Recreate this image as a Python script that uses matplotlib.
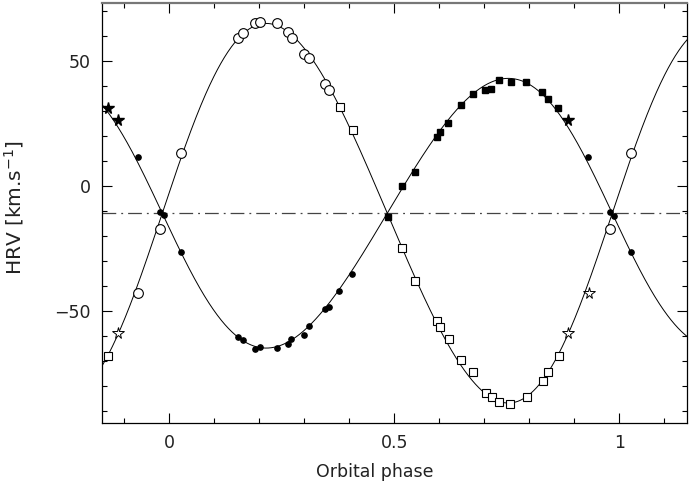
import numpy as np
import matplotlib
matplotlib.use("Agg")
import matplotlib.pyplot as plt
from matplotlib.ticker import MultipleLocator

# ---------------- data ----------------
open_circ_phase = [-0.069, -0.022, 0.026, 0.153, 0.164, 0.190, 0.202, 0.238, 0.264,
                   0.272, 0.299, 0.309, 0.346, 0.355, 0.980, 1.026]
open_circ_rv = [-43.0, -17.3, 13.0, 59.0, 61.2, 65.0, 65.5, 65.2, 61.4,
                59.2, 52.7, 51.0, 40.7, 38.4, -17.3, 13.0]

open_sq_phase = [-0.136, 0.378, 0.407, 0.516, 0.545, 0.594, 0.601, 0.621, 0.648,
                 0.675, 0.703, 0.717, 0.732, 0.757, 0.795, 0.830, 0.841, 0.866]
open_sq_rv = [-68.0, 31.6, 22.2, -25.0, -38.0, -54.0, -56.4, -61.2, -69.7,
              -74.6, -82.9, -84.4, -86.5, -87.3, -84.4, -78.1, -74.5, -68.0]

open_star_phase = [-0.115, 0.885, 0.932]
open_star_rv = [-59.0, -59.0, -43.0]

fill_circ_phase = [-0.070, -0.022, -0.012, 0.025, 0.153, 0.164, 0.190, 0.202, 0.238,
                   0.264, 0.271, 0.298, 0.309, 0.346, 0.355, 0.377, 0.406,
                   0.931, 0.979, 0.988, 1.026]
fill_circ_rv = [11.6, -10.4, -11.7, -26.6, -60.4, -61.7, -65.3, -64.4, -64.9,
                -63.2, -61.3, -59.7, -56.1, -49.3, -48.5, -42.1, -35.3,
                11.6, -10.5, -12.0, -26.6]

fill_sq_phase = [0.485, 0.517, 0.545, 0.594, 0.602, 0.620, 0.648, 0.675, 0.701,
                 0.715, 0.732, 0.758, 0.793, 0.829, 0.842, 0.864]
fill_sq_rv = [-12.4, 0.0, 5.6, 19.6, 21.4, 25.2, 32.2, 36.7, 38.3,
              38.7, 42.4, 41.7, 41.6, 37.5, 34.7, 31.2]

fill_star_phase = [-0.137, -0.114, 0.885]
fill_star_rv = [31.2, 26.3, 26.3]

# orbital solution used for the model curves
gamma = -11.0
K_A = 76.0
K_B = 54.0
ecc = 0.06
T_peri = -0.016

xticks_major = [0, 0.5, 1]
xtick_labels = ["0", "0.5", "1"]
yticks_major = [-50, 0, 50]
ytick_labels = ["\u221250", "0", "50"]


def true_anomaly(phase):
    M = 2 * np.pi * (np.asarray(phase) - T_peri)
    E = M.copy()
    for _ in range(50):
        E = E - (E - ecc * np.sin(E) - M) / (1 - ecc * np.cos(E))
    return 2 * np.arctan2(np.sqrt(1 + ecc) * np.sin(E / 2), np.sqrt(1 - ecc) * np.cos(E / 2))


# ---------------- figure ----------------
fig = plt.figure(figsize=(6.89, 4.91), dpi=100)
ax = fig.add_axes([0.148, 0.1385, 0.849, 0.8555])

ph = np.linspace(-0.15, 1.15, 1000)
nu = true_anomaly(ph)
ax.plot(ph, gamma + K_A * np.sin(nu), color="black", lw=0.7, zorder=2)
ax.plot(ph, gamma - K_B * np.sin(nu), color="black", lw=0.7, zorder=2)
ax.axhline(gamma, color="#444444", lw=0.9, linestyle=(0, (11, 4, 1.5, 4)), zorder=1)

ax.plot(open_circ_phase, open_circ_rv, "o", ms=7, mfc="white", mec="black", mew=0.8, zorder=3)
ax.plot(open_sq_phase, open_sq_rv, "s", ms=6.2, mfc="white", mec="black", mew=0.8, zorder=3)
ax.plot(open_star_phase, open_star_rv, "*", ms=8.5, mfc="white", mec="black", mew=0.7, zorder=3)
ax.plot(fill_circ_phase, fill_circ_rv, "o", ms=3.8, mfc="black", mec="black", zorder=4)
ax.plot(fill_sq_phase, fill_sq_rv, "s", ms=3.8, mfc="black", mec="black", zorder=4)
ax.plot(fill_star_phase, fill_star_rv, "*", ms=8.5, mfc="black", mec="black", zorder=4)

ax.set_xlim(-0.15, 1.15)
ax.set_ylim(-95, 73.2)

ax.set_xticks(xticks_major)
ax.set_xticklabels(xtick_labels)
ax.set_yticks(yticks_major)
ax.set_yticklabels(ytick_labels)
ax.xaxis.set_minor_locator(MultipleLocator(0.1))
ax.yaxis.set_minor_locator(MultipleLocator(10))
ax.tick_params(which="both", direction="in", top=True, right=True, width=0.8,
               labelsize=12.5, colors="black")
ax.tick_params(which="major", length=7.5, pad=8)
ax.tick_params(which="minor", length=3.8)
for lab in ax.get_xticklabels() + ax.get_yticklabels():
    lab.set_color("#222222")

for s in ax.spines.values():
    s.set_linewidth(0.9)
    s.set_color("black")
ax.spines["top"].set_color("#777777")
ax.spines["top"].set_linewidth(1.6)

ax.set_xlabel("Orbital phase", fontsize=12.5, color="#222222")
ax.xaxis.set_label_coords(0.467, -0.095)
ax.set_ylabel("HRV [km.s$^{-1}$]", fontsize=14.5, color="#222222")
ax.yaxis.set_label_coords(-0.13, 0.512)

fig.savefig("out.png", dpi=100)
